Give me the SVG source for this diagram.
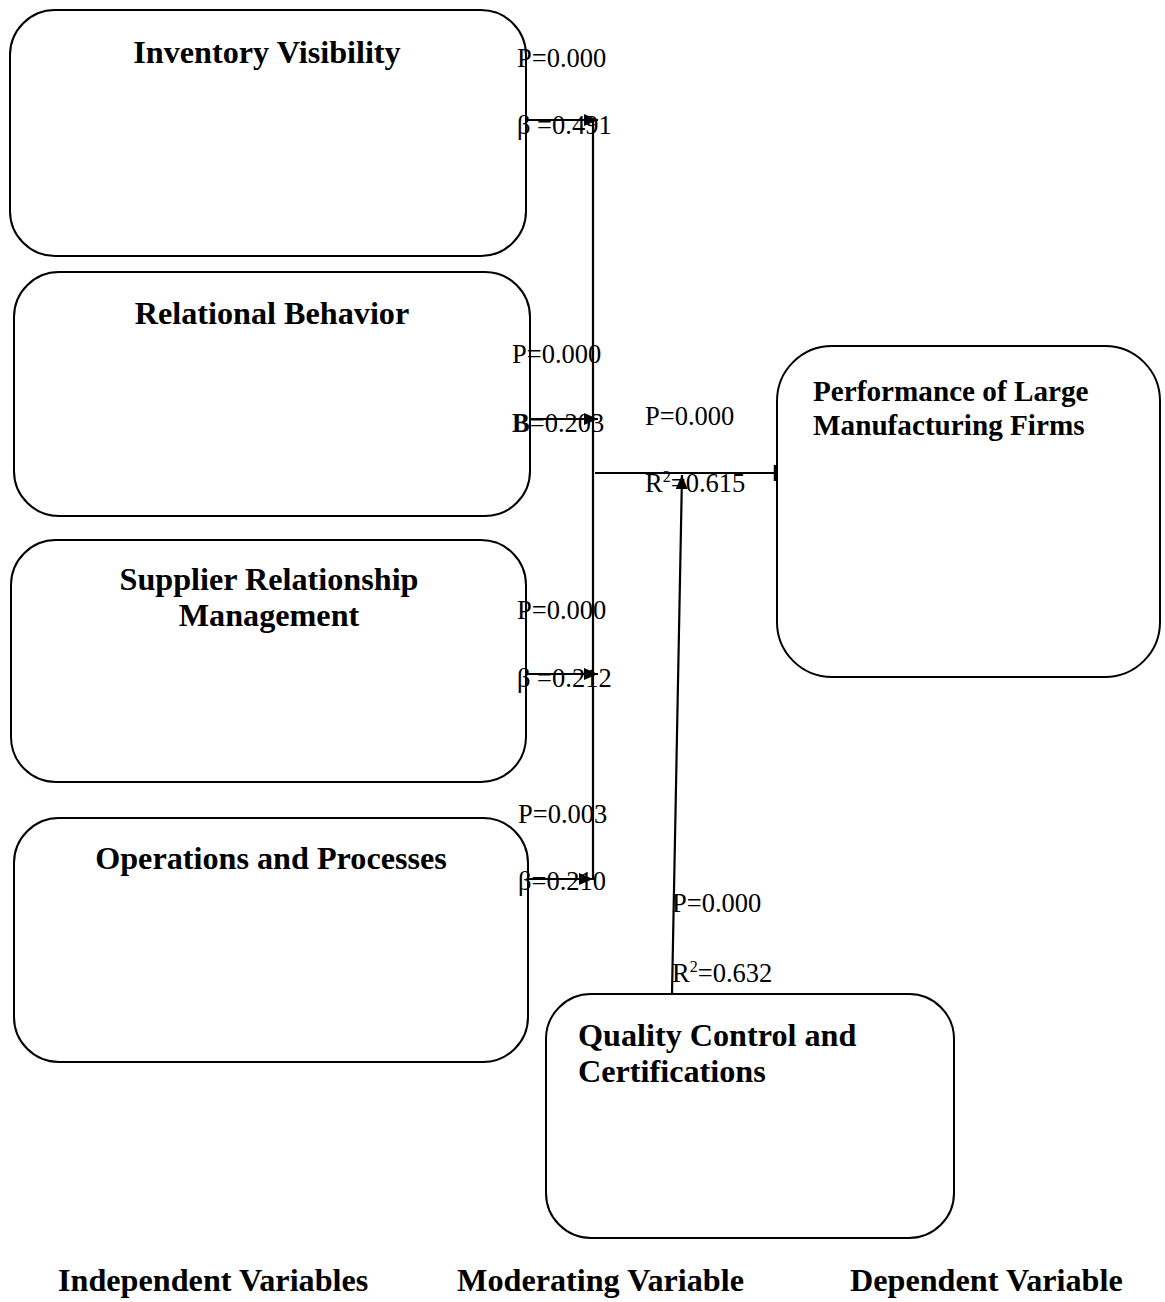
<svg xmlns="http://www.w3.org/2000/svg" width="1165" height="1302" viewBox="0 0 1165 1302">
<defs>
<style>
.box{fill:#fff;stroke:#000;stroke-width:2}
.title{font-family:"Liberation Serif","Times New Roman",serif;font-weight:bold;font-size:32.2px;fill:#000}
.lbl{font-family:"Liberation Serif","Times New Roman",serif;font-size:26.5px;fill:#000}
.ln{stroke:#000;stroke-width:2.2;fill:none}
</style>
<marker id="ah" viewBox="0 0 14 12" refX="14" refY="6" markerWidth="14" markerHeight="12" markerUnits="userSpaceOnUse" orient="auto">
<path d="M0,0 L14,6 L0,12 Z" fill="#000"/>
</marker>
</defs>
<rect width="1165" height="1302" fill="#fff"/>
<g id="n-inventory">
<rect class="box" x="10" y="10" width="516" height="246" rx="45" ry="45"/>
<text class="title" x="267" y="63" text-anchor="middle">Inventory Visibility</text>
</g>
<g id="n-relational">
<rect class="box" x="14" y="272" width="516" height="244" rx="45" ry="45"/>
<text class="title" x="272" y="324" text-anchor="middle">Relational Behavior</text>
</g>
<g id="n-supplier">
<rect class="box" x="11" y="540" width="515" height="242" rx="45" ry="45"/>
<text class="title" x="269" y="590" text-anchor="middle">Supplier Relationship</text>
<text class="title" x="269" y="626" text-anchor="middle">Management</text>
</g>
<g id="n-operations">
<rect class="box" x="14" y="818" width="514" height="244" rx="45" ry="45"/>
<text class="title" x="271" y="869" text-anchor="middle">Operations and Processes</text>
</g>
<g id="n-performance">
<rect class="box" x="777" y="346" width="383" height="331" rx="55" ry="55"/>
<text class="title" x="813" y="401" style="font-size:29.2px">Performance of Large</text>
<text class="title" x="813" y="435" style="font-size:29.2px">Manufacturing Firms</text>
</g>
<g id="n-quality">
<rect class="box" x="546" y="994" width="408" height="244" rx="45" ry="45"/>
<text class="title" x="578" y="1046">Quality Control and</text>
<text class="title" x="578" y="1082">Certifications</text>
</g>
<g id="connectors">
<line class="ln" x1="526" y1="120" x2="598" y2="120" marker-end="url(#ah)"/>
<line class="ln" x1="530" y1="419" x2="598" y2="419" marker-end="url(#ah)"/>
<line class="ln" x1="526" y1="674" x2="598" y2="674" marker-end="url(#ah)"/>
<line class="ln" x1="528" y1="879" x2="593" y2="879" marker-end="url(#ah)"/>
<line class="ln" x1="593" y1="120" x2="593" y2="880"/>
<line class="ln" x1="595" y1="473" x2="776" y2="473"/>
<line x1="775" y1="465" x2="775" y2="481" stroke="#000" stroke-width="2.5"/>
<line class="ln" x1="672" y1="994" x2="682" y2="475" marker-end="url(#ah)"/>
</g>
<g id="labels">
<text class="lbl" x="517" y="67">P=0.000</text>
<text class="lbl" x="517" y="134">β =0.491</text>
<text class="lbl" x="512" y="363">P=0.000</text>
<text class="lbl" x="512" y="432"><tspan font-weight="bold">B</tspan>=0.203</text>
<text class="lbl" x="645" y="425">P=0.000</text>
<text class="lbl" x="645" y="492">R<tspan dy="-10" font-size="16">2</tspan><tspan dy="10">=0.615</tspan></text>
<text class="lbl" x="517" y="619">P=0.000</text>
<text class="lbl" x="517" y="687">β =0.212</text>
<text class="lbl" x="518" y="823">P=0.003</text>
<text class="lbl" x="518" y="890">β=0.210</text>
<text class="lbl" x="672" y="912">P=0.000</text>
<text class="lbl" x="672" y="982">R<tspan dy="-10" font-size="16">2</tspan><tspan dy="10">=0.632</tspan></text>
</g>
<g id="footer">
<text class="title" x="58" y="1291">Independent Variables</text>
<text class="title" x="457" y="1291">Moderating Variable</text>
<text class="title" x="850" y="1291">Dependent Variable</text>
</g>
</svg>
